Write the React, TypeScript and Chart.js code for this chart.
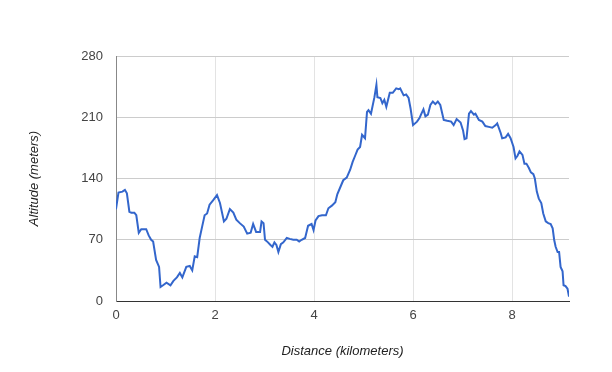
import React, { useEffect, useRef } from "react";
import { Chart, registerables } from "chart.js";

Chart.register(...registerables);

// Distance along route (km)
const distances: number[] = [
  0, 0.05, 0.13, 0.18, 0.22, 0.27, 0.31, 0.37, 0.41, 0.46, 0.51, 0.61, 0.66, 0.71, 0.75,
  0.81, 0.87, 0.9, 0.95, 1.02, 1.1, 1.16, 1.23, 1.29, 1.34, 1.42, 1.49, 1.54, 1.59, 1.64,
  1.69, 1.74, 1.79, 1.84, 1.89, 1.96, 2.04, 2.1, 2.18, 2.23, 2.3, 2.37, 2.43, 2.5, 2.58,
  2.65, 2.72, 2.77, 2.83, 2.91, 2.94, 2.98, 3.01, 3.07, 3.12, 3.16, 3.2, 3.24, 3.28, 3.33,
  3.38, 3.45, 3.51, 3.58, 3.65, 3.7, 3.75, 3.82, 3.88, 3.95, 3.99, 4.03, 4.09, 4.16, 4.24,
  4.29, 4.36, 4.43, 4.47, 4.53, 4.59, 4.66, 4.73, 4.78, 4.83, 4.88, 4.93, 4.97, 5.03, 5.07,
  5.1, 5.15, 5.22, 5.26, 5.28, 5.34, 5.38, 5.42, 5.46, 5.53, 5.59, 5.66, 5.71, 5.74, 5.81,
  5.86, 5.91, 5.95, 6.0, 6.08, 6.13, 6.16, 6.21, 6.25, 6.3, 6.35, 6.4, 6.45, 6.5, 6.55,
  6.62, 6.69, 6.77, 6.82, 6.88, 6.96, 7.01, 7.04, 7.08, 7.13, 7.17, 7.23, 7.26, 7.33, 7.4,
  7.46, 7.53, 7.6, 7.67, 7.7, 7.77, 7.8, 7.87, 7.92, 7.97, 8.03, 8.07, 8.11, 8.15, 8.21,
  8.25, 8.29, 8.34, 8.38, 8.43, 8.46, 8.5, 8.54, 8.59, 8.63, 8.68, 8.73, 8.78, 8.82, 8.85,
  8.88, 8.92, 8.95, 8.98, 9.02, 9.04, 9.08, 9.12, 9.15,
];

// Altitude (m)
const altitudes: number[] = [
  105, 124, 125, 127, 123, 102, 101, 101, 98, 78, 82, 82, 75, 70, 68,
  47, 39, 16, 18, 21, 18, 23, 27, 32, 27, 39, 40, 35, 51, 50,
  72, 85, 98, 100, 110, 115, 121, 112, 91, 94, 105, 101, 93, 89, 85,
  77, 78, 88, 79, 79, 91, 89, 70, 67, 64, 62, 67, 64, 56, 65,
  67, 72, 71, 70, 70, 68, 70, 72, 86, 88, 81, 92, 97, 98, 98,
  106, 109, 113, 122, 130, 138, 141, 150, 159, 166, 173, 176, 190, 186, 216,
  218, 214, 233, 247, 233, 232, 226, 230, 222, 238, 238, 243, 242, 243, 235,
  236, 232, 220, 201, 205, 209, 213, 219, 211, 213, 224, 228, 225, 228, 224,
  207, 206, 205, 201, 208, 204, 195, 185, 186, 214, 217, 213, 214, 207, 205,
  200, 199, 198, 201, 203, 192, 186, 187, 191, 186, 176, 163, 166, 171, 167,
  157, 157, 152, 147, 145, 140, 125, 117, 112, 100, 91, 89, 88, 83, 70,
  62, 56, 56, 39, 34, 18, 17, 14, 5,
];

const xTicks: number[] = [0, 2, 4, 6, 8];
const yTicks: number[] = [0, 70, 140, 210, 280];
const xTitle = "Distance (kilometers)";
const yTitle = "Altitude (meters)";

const FONT = 'Arial, "Liberation Sans", sans-serif';

export default function App() {
  const ref = useRef<HTMLCanvasElement | null>(null);

  useEffect(() => {
    document.body.style.margin = "0";
    const canvas = ref.current;
    if (!canvas) return;
    const points = distances.map((d, i) => ({ x: d, y: altitudes[i] }));
    const chart = new Chart(canvas, {
      type: "line",
      data: {
        datasets: [
          {
            data: points,
            borderColor: "#3366cc",
            borderWidth: 2,
            pointRadius: 0,
            pointHoverRadius: 0,
            tension: 0,
            fill: false,
          },
        ],
      },
      options: {
        animation: false,
        responsive: false,
        devicePixelRatio: 1,
        events: [],
        layout: { padding: { top: 56, right: 43, left: 0, bottom: 0 } },
        plugins: { legend: { display: false }, tooltip: { enabled: false } },
        scales: {
          x: {
            type: "linear",
            min: 0,
            max: distances[distances.length - 1],
            afterFit: (s: any) => {
              s.height = 71;
            },
            afterBuildTicks: (s: any) => {
              s.ticks = xTicks.map((v) => ({ value: v }));
            },
            ticks: {
              includeBounds: false,
              padding: 7,
              maxRotation: 0,
              color: "#444",
              font: { family: FONT, size: 13 },
              callback: (v: any) => String(v),
            },
            grid: { color: "#e3e3e3", lineWidth: 1, drawTicks: false },
            border: { color: "#333", width: 1 },
            title: {
              display: true,
              text: xTitle,
              color: "#222",
              font: { family: FONT, size: 13, style: "italic" },
              padding: { top: 0, bottom: 13 },
            },
          },
          y: {
            type: "linear",
            min: 0,
            max: 280,
            afterFit: (s: any) => {
              s.width = 116;
            },
            afterBuildTicks: (s: any) => {
              s.ticks = yTicks.map((v) => ({ value: v }));
            },
            ticks: {
              padding: 13,
              color: "#444",
              font: { family: FONT, size: 13 },
              callback: (v: any) => String(v),
            },
            grid: { color: "#cccccc", lineWidth: 1, drawTicks: false },
            border: { color: "#888", width: 1 },
            title: {
              display: true,
              text: yTitle,
              color: "#222",
              font: { family: FONT, size: 13, style: "italic" },
              padding: { top: 27, bottom: 0 },
            },
          },
        },
      },
    });
    return () => chart.destroy();
  }, []);

  return (
    <div style={{ width: 612, height: 372, background: "#fff" }}>
      <canvas ref={ref} width={612} height={372} style={{ display: "block" }} />
    </div>
  );
}
